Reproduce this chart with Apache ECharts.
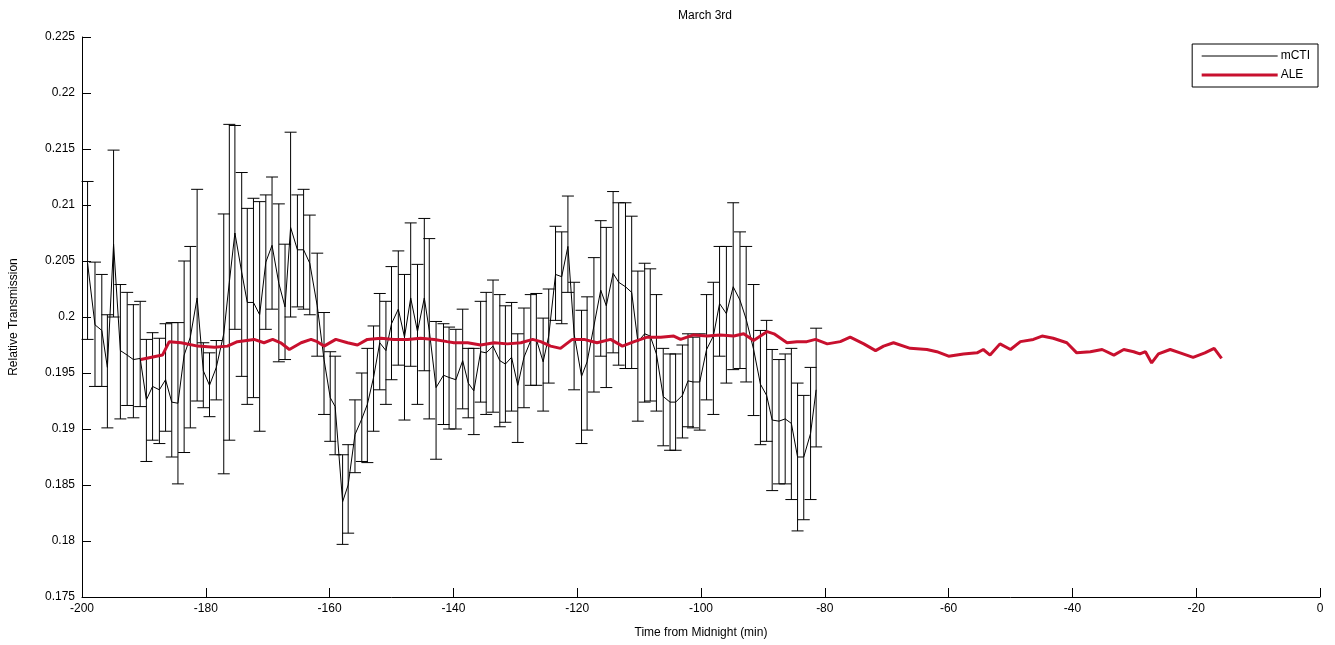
<!DOCTYPE html>
<html>
<head>
<meta charset="utf-8">
<title>March 3rd</title>
<script src="https://cdn.jsdelivr.net/npm/echarts@6/dist/echarts.min.js"></script>
<style>
  html, body { margin: 0; padding: 0; background: #fff; }
  #pic1 { width: 1335px; height: 645px; }
</style>
</head>
<body>
<div id="pic1"></div>
<script>
// mCTI: time (min from midnight), value, lower and upper end of the error bar
var mctiTime = [
  -199.1, -197.9, -196.8, -195.9, -194.9, -193.8, -192.7, -191.7, -190.6, -189.6,
  -188.6, -187.5, -186.5, -185.5, -184.5, -183.5, -182.5, -181.4, -180.4, -179.4,
  -178.3, -177.1, -176.2, -175.3, -174.2, -173.3, -172.3, -171.3, -170.3, -169.3,
  -168.2, -167.2, -166.3, -165.2, -164.2, -163.2, -162.0, -160.9, -159.9, -159.1,
  -157.9, -157.0, -155.9, -154.8, -153.9, -152.9, -151.9, -150.9, -150.0, -148.9,
  -147.9, -146.9, -145.8, -144.7, -143.9, -142.8, -141.6, -140.7, -139.6, -138.5,
  -137.6, -136.7, -135.6, -134.7, -133.6, -132.5, -131.6, -130.6, -129.6, -128.6,
  -127.5, -126.6, -125.5, -124.6, -123.5, -122.5, -121.5, -120.5, -119.3, -118.4,
  -117.3, -116.2, -115.3, -114.2, -113.3, -112.2, -111.2, -110.2, -109.1, -108.2,
  -107.2, -106.1, -105.0, -104.1, -103.0, -102.1, -101.3, -100.2, -99.1, -98.0,
  -97.0, -95.9, -94.8, -93.7, -92.7, -91.5, -90.4, -89.4, -88.5, -87.4,
  -86.4, -85.4, -84.4, -83.4, -82.3, -81.4
];
var mctiValue = [
  0.2048, 0.1993, 0.1988, 0.1955, 0.2065, 0.1970, 0.1966, 0.1962, 0.1963, 0.1926,
  0.1938, 0.1935, 0.1944, 0.1924, 0.1923, 0.1966, 0.1982, 0.2017, 0.1952, 0.1939,
  0.1955, 0.1985, 0.2031, 0.2075, 0.2040, 0.2013, 0.2013, 0.2002, 0.2049, 0.2064,
  0.2030, 0.2009, 0.2080, 0.2060, 0.2060, 0.2048, 0.2010, 0.1962, 0.1928, 0.1920,
  0.1835, 0.1850, 0.1895, 0.1909, 0.1922, 0.1946, 0.1977, 0.1970, 0.1994, 0.2007,
  0.1982, 0.2017, 0.1987, 0.2017, 0.1988, 0.1937, 0.1948, 0.1946, 0.1944, 0.1961,
  0.1941, 0.1934, 0.1969, 0.1968, 0.1974, 0.1961, 0.1958, 0.1964, 0.1939, 0.1964,
  0.1979, 0.1980, 0.1960, 0.1983, 0.2038, 0.2036, 0.2063, 0.1985, 0.1947, 0.1960,
  0.1992, 0.2024, 0.2010, 0.2039, 0.2031, 0.2027, 0.2022, 0.1978, 0.1985, 0.1983,
  0.1967, 0.1929, 0.1924, 0.1924, 0.1930, 0.1943, 0.1942, 0.1942, 0.1971, 0.1983,
  0.2012, 0.2003, 0.2027, 0.2015, 0.1998, 0.1971, 0.1940, 0.1930, 0.1908, 0.1907,
  0.1909, 0.1905, 0.1875, 0.1875, 0.1896, 0.1935
];
var mctiLow = [
  0.1980, 0.1938, 0.1938, 0.1901, 0.2000, 0.1909, 0.1921, 0.1910, 0.1920, 0.1871,
  0.1890, 0.1887, 0.1898, 0.1875, 0.1851, 0.1879, 0.1901, 0.1925, 0.1919, 0.1911,
  0.1926, 0.1860, 0.1890, 0.1989, 0.1947, 0.1922, 0.1928, 0.1898, 0.1989, 0.2007,
  0.1960, 0.1962, 0.2000, 0.2009, 0.2007, 0.2002, 0.1965, 0.1913, 0.1889, 0.1877,
  0.1797, 0.1807, 0.1861, 0.1871, 0.1870, 0.1898, 0.1935, 0.1922, 0.1944, 0.1957,
  0.1908, 0.1956, 0.1922, 0.1952, 0.1909, 0.1873, 0.1904, 0.1900, 0.1900, 0.1918,
  0.1910, 0.1895, 0.1924, 0.1913, 0.1915, 0.1902, 0.1906, 0.1916, 0.1888, 0.1919,
  0.1939, 0.1939, 0.1916, 0.1941, 0.1997, 0.1994, 0.2022, 0.1935, 0.1887, 0.1899,
  0.1933, 0.1965, 0.1937, 0.1968, 0.1957, 0.1954, 0.1954, 0.1907, 0.1924, 0.1925,
  0.1916, 0.1885, 0.1881, 0.1881, 0.1892, 0.1902, 0.1901, 0.1899, 0.1926, 0.1913,
  0.1965, 0.1941, 0.1953, 0.1954, 0.1942, 0.1912, 0.1886, 0.1889, 0.1845, 0.1851,
  0.1851, 0.1837, 0.1809, 0.1819, 0.1837, 0.1884
];
var mctiHigh = [
  0.2121, 0.2049, 0.2038, 0.2002, 0.2149, 0.2029, 0.2022, 0.2011, 0.2014, 0.1980,
  0.1986, 0.1981, 0.1994, 0.1995, 0.1995, 0.2050, 0.2063, 0.2114, 0.1977, 0.1968,
  0.1979, 0.2092, 0.2172, 0.2171, 0.2129, 0.2097, 0.2106, 0.2103, 0.2109, 0.2125,
  0.2101, 0.2065, 0.2165, 0.2109, 0.2114, 0.2091, 0.2057, 0.2004, 0.1969, 0.1965,
  0.1877, 0.1886, 0.1926, 0.1950, 0.1972, 0.1992, 0.2021, 0.2014, 0.2045, 0.2059,
  0.2038, 0.2084, 0.2047, 0.2088, 0.2070, 0.1996, 0.1994, 0.1991, 0.1989, 0.2007,
  0.1972, 0.1972, 0.2014, 0.2022, 0.2033, 0.2020, 0.2010, 0.2013, 0.1985, 0.2008,
  0.2020, 0.2021, 0.1999, 0.2025, 0.2081, 0.2076, 0.2108, 0.2031, 0.2006, 0.2018,
  0.2053, 0.2086, 0.2080, 0.2112, 0.2102, 0.2102, 0.2090, 0.2041, 0.2048, 0.2043,
  0.2020, 0.1972, 0.1967, 0.1967, 0.1975, 0.1985, 0.1982, 0.1985, 0.2020, 0.2031,
  0.2063, 0.2063, 0.2102, 0.2076, 0.2063, 0.2029, 0.1988, 0.1997, 0.1971, 0.1962,
  0.1967, 0.1972, 0.1941, 0.1930, 0.1955, 0.1990
];

// ALE
var aleTime = [
  -190.5, -187.0, -185.9, -184.0, -181.3, -178.6, -176.5, -174.9, -172.2, -170.6,
  -169.2, -167.9, -166.5, -164.6, -163.0, -162.0, -160.9, -159.0, -157.1, -155.5,
  -153.9, -151.7, -149.6, -147.4, -145.3, -143.1, -141.0, -139.9, -137.7, -135.6,
  -133.4, -131.3, -129.1, -127.2, -125.9, -124.3, -122.7, -120.8, -118.9, -116.8,
  -114.6, -112.7, -110.8, -108.7, -106.5, -104.4, -103.3, -101.2, -99.0, -96.9,
  -94.7, -93.1, -91.5, -89.3, -88.2, -86.1, -84.5, -82.9, -81.5, -79.6,
  -77.5, -75.9, -73.7, -71.8, -70.5, -68.9, -66.2, -63.5, -61.9, -60.0,
  -57.6, -55.4, -54.4, -53.3, -51.7, -50.0, -48.4, -46.3, -44.9, -43.1,
  -40.9, -39.3, -37.1, -35.2, -33.3, -31.7, -30.1, -29.1, -28.2, -27.2,
  -26.1, -24.2, -22.6, -20.5, -18.6, -17.1, -15.9
];
var aleValue = [
  0.1962, 0.1966, 0.1978, 0.1977, 0.1974, 0.1973, 0.1974, 0.1978, 0.1980, 0.1977,
  0.1980, 0.1977, 0.1971, 0.1977, 0.1980, 0.1978, 0.1974, 0.1980, 0.1977, 0.1975,
  0.1980, 0.1981, 0.1980, 0.1980, 0.1981, 0.1980, 0.1978, 0.1977, 0.1977, 0.1975,
  0.1977, 0.1976, 0.1977, 0.1980, 0.1978, 0.1974, 0.1972, 0.1980, 0.1980, 0.1977,
  0.1980, 0.1974, 0.1978, 0.1982, 0.1982, 0.1983, 0.1980, 0.1984, 0.1983, 0.1984,
  0.1983, 0.1985, 0.1979, 0.1987, 0.1985, 0.1977, 0.1978, 0.1978, 0.1980, 0.1976,
  0.1978, 0.1982, 0.1976, 0.1970, 0.1974, 0.1977, 0.1972, 0.1971, 0.1969, 0.1965,
  0.1967, 0.1968, 0.1971, 0.1966, 0.1976, 0.1971, 0.1978, 0.1980, 0.1983, 0.1981,
  0.1977, 0.1968, 0.1969, 0.1971, 0.1966, 0.1971, 0.1969, 0.1967, 0.1969, 0.1959,
  0.1967, 0.1971, 0.1968, 0.1964, 0.1968, 0.1972, 0.1963
];

var yTicks = { min: 0.175, max: 0.225, step: 0.005 };
var xTicks = { min: -200, max: 0, step: 20 };

var font = '"Liberation Sans Narrow", "Liberation Sans", Arial, sans-serif';

var mctiLine = mctiTime.map(function (t, i) { return [t, mctiValue[i]]; });
var mctiBars = mctiTime.map(function (t, i) { return [t, mctiLow[i], mctiHigh[i]]; });
var aleLine = aleTime.map(function (t, i) { return [t, aleValue[i]]; });

var myChart = echarts.init(document.getElementById('pic1'), null, { renderer: 'canvas' });

var option = {
    backgroundColor: '#fff',
    animation: false,
    title: {
        text: 'March 3rd',
        left: 700,
        textAlign: 'center',
        top: 5,
        textStyle: { fontFamily: font, fontSize: 12, fontWeight: 'normal', color: '#000' }
    },
    legend: {
        orient: 'vertical',
        right: 17,
        top: 44,
        data: [
            { name: 'mCTI', lineStyle: { width: 1 } },
            { name: 'ALE', lineStyle: { width: 3 } }
        ],
        borderColor: '#000',
        borderWidth: 1,
        borderRadius: 0,
        padding: [6, 8, 6, 8],
        itemWidth: 76,
        itemHeight: 10,
        itemGap: 7,
        itemStyle: { opacity: 0 },
        textStyle: { fontFamily: font, fontSize: 12, color: '#000', padding: [0, 0, 0, -2] }
    },
    grid: { left: 81, right: 15, top: 37, bottom: 48 },
    xAxis: {
        type: 'value',
        min: xTicks.min,
        max: xTicks.max,
        interval: xTicks.step,
        name: 'Time from Midnight (min)',
        nameLocation: 'middle',
        nameGap: 30,
        nameTextStyle: { fontFamily: font, fontSize: 12, color: '#000' },
        axisLine: { onZero: false, lineStyle: { color: '#000', width: 1 } },
        axisTick: { inside: true, length: 9, lineStyle: { color: '#000' } },
        axisLabel: { fontFamily: font, fontSize: 12, color: '#000', margin: 6 },
        splitLine: { show: false }
    },
    yAxis: {
        type: 'value',
        min: yTicks.min,
        max: yTicks.max,
        interval: yTicks.step,
        name: 'Relative Transmission',
        nameLocation: 'middle',
        nameGap: 62,
        nameTextStyle: { fontFamily: font, fontSize: 12, color: '#000' },
        axisLine: { show: true, onZero: false, lineStyle: { color: '#000', width: 1 } },
        axisTick: { show: true, inside: true, length: 9, lineStyle: { color: '#000' } },
        axisLabel: { fontFamily: font, fontSize: 12, color: '#000', margin: 7 },
        splitLine: { show: false }
    },
    series: [
        {
            name: 'mCTI',
            type: 'line',
            data: mctiLine,
            symbol: 'none',
            smooth: false,
            lineStyle: { color: '#000', width: 1 },
            itemStyle: { color: '#000' },
            z: 3
        },
        {
            name: 'mCTI',
            type: 'custom',
            data: mctiBars,
            renderItem: function (params, api) {
                var t = api.value(0);
                var lo = api.coord([t, api.value(1)]);
                var hi = api.coord([t, api.value(2)]);
                var half = 6;
                var style = { stroke: '#000', lineWidth: 1 };
                return {
                    type: 'group',
                    children: [
                        { type: 'line', shape: { x1: lo[0], y1: lo[1], x2: hi[0], y2: hi[1] }, style: style },
                        { type: 'line', shape: { x1: lo[0] - half, y1: lo[1], x2: lo[0] + half, y2: lo[1] }, style: style },
                        { type: 'line', shape: { x1: hi[0] - half, y1: hi[1], x2: hi[0] + half, y2: hi[1] }, style: style }
                    ]
                };
            },
            encode: { x: 0, y: [1, 2] },
            z: 2
        },
        {
            name: 'ALE',
            type: 'line',
            data: aleLine,
            symbol: 'none',
            lineStyle: { color: '#c8102e', width: 3 },
            itemStyle: { color: '#c8102e' },
            z: 4
        }
    ]
};

myChart.setOption(option);
</script>
</body>
</html>
